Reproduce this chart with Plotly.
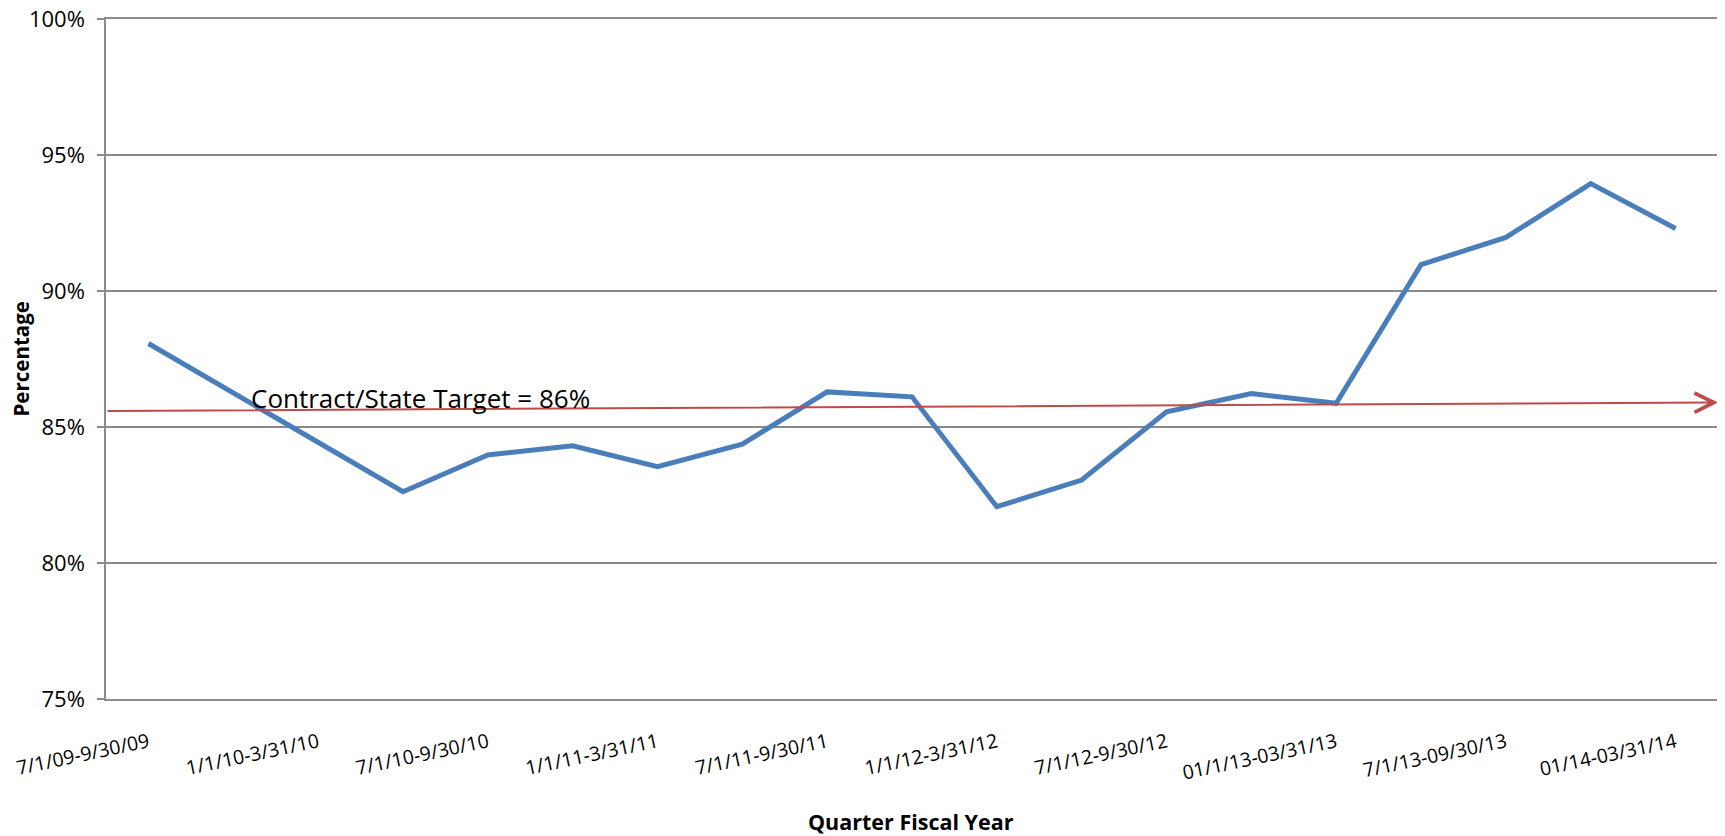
import plotly.graph_objects as go

quarters = [
    "7/1/09-9/30/09", "10/1/09-12/31/09",
    "1/1/10-3/31/10", "4/1/10-6/30/10",
    "7/1/10-9/30/10", "10/1/10-12/31/10",
    "1/1/11-3/31/11", "4/1/11-6/30/11",
    "7/1/11-9/30/11", "10/1/11-12/31/11",
    "1/1/12-3/31/12", "4/1/12-6/30/12",
    "7/1/12-9/30/12", "10/1/12-12/31/12",
    "01/1/13-03/31/13", "04/1/13-06/30/13",
    "7/1/13-09/30/13", "10/1/13-12/31/13",
    "01/14-03/31/14",
]
percentage = [88.07, 86.25, 84.43, 82.62, 83.97, 84.31, 83.54, 84.37, 86.29, 86.11,
              82.07, 83.05, 85.56, 86.23, 85.87, 90.97, 91.97, 93.95, 92.30]
tick_labels = quarters[::2]

# target arrow (start and end of the drawn red arrow, in axis units)
target_x = [-0.5, 18.5]
target_y = [85.59, 85.90]
target_text = "Contract/State Target = 86%"

y_ticks = [75, 80, 85, 90, 95, 100]
y_tick_text = [f"{v}%" for v in y_ticks]

GRID = "#8a8a8a"
FONT = "Open Sans"

# page body has an 8px margin, so figure coords = screen coords - 8
W, H = 1717, 828
ml, mr, mt, mb = 98, 7, 11, 137
pw, ph = W - ml - mr, H - mt - mb

fig = go.Figure()
fig.add_trace(go.Scatter(
    x=quarters, y=percentage, mode="lines",
    line=dict(color="#4a7ebb", width=5),
    hoverinfo="x+y", showlegend=False,
))

fig.add_annotation(
    x=target_x[1], y=target_y[1], ax=target_x[0], ay=target_y[0],
    xref="x", yref="y", axref="x", ayref="y",
    text="", showarrow=True, arrowhead=5, arrowsize=1.9, arrowwidth=2,
    arrowcolor="#be4b48", standoff=0, startstandoff=0,
)
fig.add_annotation(
    x=1.19, y=86.05, xref="x", yref="y", text=target_text,
    showarrow=False, xanchor="left", yanchor="middle",
    font=dict(family=FONT, size=26, color="#000000"),
)
fig.add_annotation(
    x=(12.5 - ml) / pw, y=0.5, xref="paper", yref="paper", text="<b>Percentage</b>",
    showarrow=False, textangle=-90, xanchor="center", yanchor="middle",
    font=dict(family=FONT, size=20.5, color="#000000"),
)
fig.add_annotation(
    x=(903 - ml) / pw, y=-(813 - (H - mb)) / ph, xref="paper", yref="paper",
    text="<b>Quarter Fiscal Year</b>",
    showarrow=False, xanchor="center", yanchor="middle",
    font=dict(family=FONT, size=21.5, color="#000000"),
)

fig.update_layout(
    width=W, height=H,
    margin=dict(l=ml, r=mr, t=mt, b=mb, autoexpand=False),
    paper_bgcolor="white", plot_bgcolor="white",
    font=dict(family=FONT, color="#000000"),
    xaxis=dict(
        type="category", categoryorder="array", categoryarray=quarters,
        range=[-0.5, 18.5], tickvals=tick_labels, ticktext=tick_labels,
        tickangle=-12, ticks="", showgrid=False,
        showline=True, linecolor=GRID, linewidth=1.5, mirror=True,
        tickfont=dict(family=FONT, size=19.5, color="#000000"),
        ticklabelstandoff=23,
    ),
    yaxis=dict(
        range=[75, 100], tickvals=y_ticks, ticktext=y_tick_text,
        ticks="outside", ticklen=7, tickcolor=GRID, tickwidth=1.5,
        showgrid=True, gridcolor=GRID, gridwidth=1.5,
        showline=True, linecolor=GRID, linewidth=1.5, mirror=True,
        zeroline=False, ticklabeloverflow="allow",
        tickfont=dict(family=FONT, size=22, color="#000000"),
        ticklabelstandoff=8,
    ),
)

fig.write_html("out.html")
